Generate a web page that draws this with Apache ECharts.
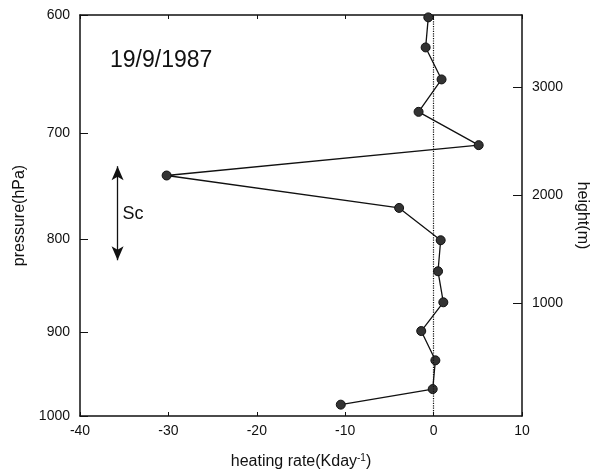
<!DOCTYPE html>
<html>
<head>
<meta charset="utf-8">
<script src="https://cdn.jsdelivr.net/npm/echarts@6/dist/echarts.min.js"></script>
<style>
    html, body { margin: 0; padding: 0; background: #fff; }
    #chart { width: 598px; height: 471px; }
</style>
</head>
<body>
<div id="chart"></div>
<script>
    // heating rate (K/day) against height (m)
    var heatingRate = [-0.6, -0.9, 0.9, -1.7, 5.1, -30.2, -3.9, 0.8, 0.5, 1.1, -1.4, 0.2, -0.1, -10.5];
    var heightM = [3648, 3370, 3074, 2774, 2466, 2185, 1885, 1586, 1299, 1012, 746, 475, 209, 65];

    // pressure labels on the left axis and the height where each one sits
    var pressureLabels = ['1000', '900', '800', '700', '600'];
    var pressureHeights = [-40, 734, 1595, 2577, 3670];

    var heightTicks = [1000, 2000, 3000];

    // Sc cloud layer arrow (heating rate, top height, bottom height)
    var scArrow = [-35.75, 2271, 1401];
    var scLabel = [-34.0, 1833];

    var font = 'Liberation Sans, Arial, sans-serif';
    var chart = echarts.init(document.getElementById('chart'));

    var seriesData = [];
    heatingRate.forEach(function (v, i) {
        seriesData.push([v, heightM[i]]);
    });

    var option = {
        backgroundColor: '#fff',
        animation: false,
        grid: {
            left: 80,
            right: 76,
            top: 15,
            bottom: 55,
            containLabel: false,
            outerBoundsMode: 'none'
        },
        graphic: [{
            type: 'text',
            left: 110,
            top: 49,
            style: {
                text: '19/9/1987',
                font: '23px ' + font,
                fill: '#111'
            }
        }],
        xAxis: [{
            type: 'value',
            min: -40,
            max: 10,
            interval: 10,
            position: 'bottom',
            name: '{a|heating rate(Kday}{s|-1}{a|)}',
            nameLocation: 'middle',
            nameGap: 37,
            nameTextStyle: {
                rich: {
                    a: { fontFamily: font, fontSize: 16, color: '#111' },
                    s: { fontFamily: font, fontSize: 10, color: '#111', verticalAlign: 'top', padding: [0, 0, 8, 0] }
                }
            },
            axisLine: { onZero: false, lineStyle: { color: '#111', width: 1.5 } },
            axisTick: { inside: true, length: 4, lineStyle: { color: '#111' } },
            axisLabel: { fontFamily: font, fontSize: 14, color: '#111', margin: 8 },
            splitLine: { show: false }
        }, {
            type: 'value',
            min: -40,
            max: 10,
            interval: 10,
            position: 'top',
            axisLine: { onZero: false, lineStyle: { color: '#111', width: 1.5 } },
            axisTick: { inside: true, length: 4, lineStyle: { color: '#111' } },
            axisLabel: { show: false },
            splitLine: { show: false }
        }],
        yAxis: [{
            type: 'value',
            min: -40,
            max: 3670,
            position: 'left',
            name: 'pressure(hPa)',
            nameLocation: 'middle',
            nameRotate: 90,
            nameGap: 41,
            nameTextStyle: { fontFamily: font, fontSize: 16, color: '#111' },
            axisLine: { show: true, onZero: false, lineStyle: { color: '#111', width: 1.5 } },
            axisTick: {
                show: true, inside: true, length: 8,
                customValues: pressureHeights,
                lineStyle: { color: '#111' }
            },
            axisLabel: {
                fontFamily: font, fontSize: 14, color: '#111', margin: 10,
                customValues: pressureHeights,
                formatter: function (val) {
                    var idx = pressureHeights.indexOf(val);
                    return idx >= 0 ? pressureLabels[idx] : '';
                }
            },
            splitLine: { show: false }
        }, {
            type: 'value',
            min: -40,
            max: 3670,
            position: 'right',
            name: 'height(m)',
            nameLocation: 'middle',
            nameRotate: -90,
            nameGap: 50,
            nameTextStyle: { fontFamily: font, fontSize: 16, color: '#111' },
            axisLine: { show: true, onZero: false, lineStyle: { color: '#111', width: 1.5 } },
            axisTick: {
                show: true, inside: true, length: 9,
                customValues: heightTicks,
                lineStyle: { color: '#111' }
            },
            axisLabel: {
                fontFamily: font, fontSize: 14, color: '#111', margin: 10,
                customValues: heightTicks,
                formatter: function (val) { return String(val); }
            },
            splitLine: { show: false }
        }],
        series: [{
            type: 'line',
            xAxisIndex: 0,
            yAxisIndex: 1,
            data: seriesData,
            symbol: 'circle',
            symbolSize: 9,
            lineStyle: { color: '#111', width: 1.3 },
            itemStyle: { color: '#333', borderColor: '#111', borderWidth: 1 },
            markLine: {
                silent: true,
                symbol: ['none', 'none'],
                label: { show: false },
                lineStyle: { color: '#111', type: 'dotted', width: 1.2 },
                data: [{ xAxis: 0 }]
            },
            z: 3
        }, {
            type: 'scatter',
            xAxisIndex: 0,
            yAxisIndex: 1,
            data: [scLabel],
            symbolSize: 0,
            itemStyle: { opacity: 1 },
            label: {
                show: true,
                formatter: 'Sc',
                position: 'inside',
                fontFamily: font,
                fontSize: 18,
                color: '#111'
            },
            markLine: {
                silent: true,
                symbol: ['arrow', 'arrow'],
                symbolSize: [9, 14],
                label: { show: false },
                lineStyle: { color: '#111', type: 'solid', width: 1.3 },
                data: [[
                    { coord: [scArrow[0], scArrow[1]] },
                    { coord: [scArrow[0], scArrow[2]] }
                ]]
            }
        }]
    };

    chart.setOption(option);
</script>
</body>
</html>
